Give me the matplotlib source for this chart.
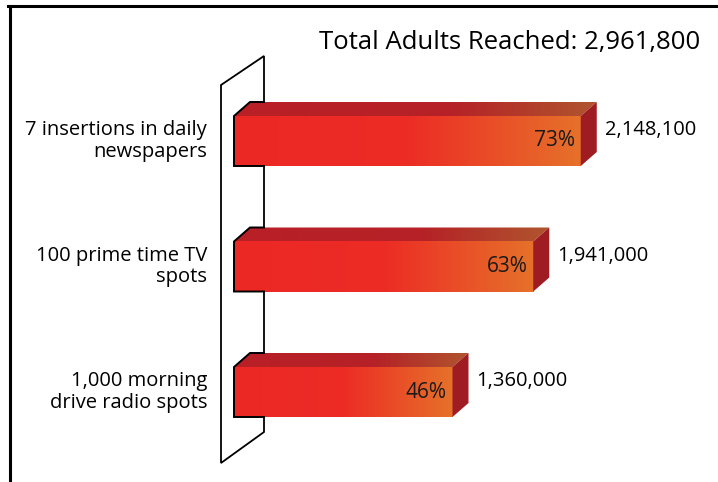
import numpy as np
import matplotlib
matplotlib.use("Agg")
import matplotlib.pyplot as plt
from matplotlib.colors import LinearSegmentedColormap
from matplotlib.patches import Polygon
from matplotlib.lines import Line2D

plt.rcParams['font.family'] = ['Open Sans', 'DejaVu Sans']

# reach by medium
categories = ["7 insertions in daily\nnewspapers",
              "100 prime time TV\nspots",
              "1,000 morning\ndrive radio spots"]
percents = [73, 63, 46]
reach = ["2,148,100", "1,941,000", "1,360,000"]
title = "Total Adults Reached: 2,961,800"

W, H, DPI = 718, 482, 100
x0_px = 234          # left end of bars
px_per_pct = 4.75
y0_px, row_px = 141, 125.5
sx = 1 / px_per_pct  # data units per pixel
sy = 1 / row_px

fig = plt.figure(figsize=(W / DPI, H / DPI), dpi=DPI)
ax = fig.add_axes([0, 0, 1, 1])
ax.axis("off")

front_cmap = LinearSegmentedColormap.from_list(
    "front", [(0, "#ED2826"), (0.5, "#EC2C25"), (1, "#E6712A")])
top_cmap = LinearSegmentedColormap.from_list(
    "top", [(0, "#B91F26"), (0.6, "#B52227"), (1, "#B0552E")])
side_color = "#A01C23"
grad = np.linspace(0, 1, 256).reshape(1, -1)

bar_h = 50 * sy
dx, dy = 16 * sx, -14 * sy

# wall the bars pass through
wf, wb = (221 - x0_px) * sx, (264 - x0_px) * sx
wall = Polygon([(wf, (85 - y0_px) * sy), (wb, (56 - y0_px) * sy),
                (wb, (432 - y0_px) * sy), (wf, (463 - y0_px) * sy)],
               closed=True, facecolor="white", edgecolor="black", lw=1.3, zorder=1)
ax.add_patch(wall)

for i, (cat, p, r) in enumerate(zip(categories, percents, reach)):
    top, bot = i - bar_h / 2, i + bar_h / 2

    # front face
    ax.imshow(grad, extent=[0, p, bot, top], aspect="auto", cmap=front_cmap,
              zorder=2, interpolation="bicubic")

    # top face
    top_poly = Polygon([(0, top), (p, top), (p + dx, top + dy), (dx, top + dy)],
                       closed=True, facecolor="none", edgecolor="none")
    ax.add_patch(top_poly)
    im = ax.imshow(grad, extent=[0, p + dx, top, top + dy], aspect="auto",
                   cmap=top_cmap, zorder=2, interpolation="bicubic")
    im.set_clip_path(top_poly)

    # side face
    ax.add_patch(Polygon([(p, top), (p + dx, top + dy), (p + dx, bot + dy), (p, bot)],
                         closed=True, facecolor=side_color, edgecolor="none", zorder=2))

    # outline where the bar comes out of the wall
    ax.plot([wb, dx, 0, 0, wb], [top + dy, top + dy, top, bot, bot],
            color="black", lw=1.4, zorder=3, solid_joinstyle="miter")

    ax.annotate(f"{p}%", (p, i), xytext=(-6, 0), textcoords="offset pixels",
                ha="right", va="center", fontsize=15, color="#1a1a1a", zorder=4)
    ax.annotate(r, (p, i), xytext=(24, 11), textcoords="offset pixels",
                ha="left", va="center", fontsize=14.5, color="black")
    ax.annotate(cat, (0, i), xytext=(-27, 0), textcoords="offset pixels",
                ha="right", va="center", fontsize=14.5, color="black",
                linespacing=1.1, multialignment="right")

ax.set_xlim(-x0_px * sx, (W - x0_px) * sx)
ax.set_ylim((H - y0_px) * sy, -y0_px * sy)

fig.text(510 / W, 1 - 43 / H, title, ha="center", va="center", fontsize=18.5, color="black")

# frame along top and left edges
fig.add_artist(Line2D([8 / W, 1], [1 - 6 / H, 1 - 6 / H], color="black", lw=2.2,
                      transform=fig.transFigure))
fig.add_artist(Line2D([9.5 / W, 9.5 / W], [0, 1 - 6 / H], color="black", lw=2.2,
                      transform=fig.transFigure))

fig.savefig("out.png", dpi=DPI)
